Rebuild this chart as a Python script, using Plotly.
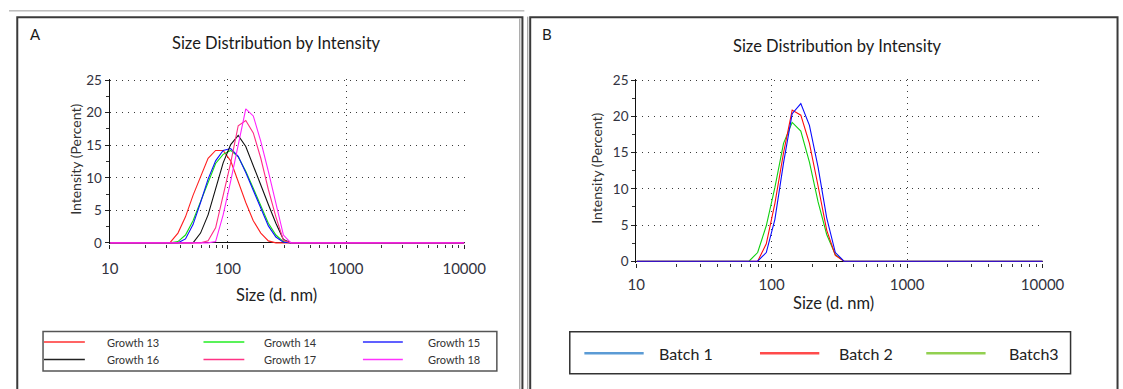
import plotly.graph_objects as go

# ---------------- data ----------------
sizes_nm = [10.1, 11.7, 13.54, 15.69, 18.17, 21.04, 24.36, 28.21, 32.67, 37.84,
            43.82, 50.75, 58.77, 68.06, 78.82, 91.28, 105.7, 122.4, 141.8, 164.2,
            190.1, 220.2, 255.0, 295.3, 342.0, 396.1, 458.7, 531.2, 615.1, 712.4,
            825.0, 955.4, 1106, 1281, 1484, 1718, 1990, 2305, 2669, 3091,
            3580, 4145, 4801, 5560, 6439, 7456, 8635, 10000]

# Panel A (intensity %, one value per size bin)
growth13 = [0, 0, 0, 0, 0, 0, 0, 0, 0.1, 1.5, 4.0, 7.3, 10.3, 13.0, 14.2, 14.2, 12.6, 9.4, 6.2, 3.4,
            1.5, 0.3, 0, 0, 0, 0, 0, 0, 0, 0, 0, 0, 0, 0, 0, 0, 0, 0, 0, 0, 0, 0, 0, 0, 0, 0, 0, 0]
growth14 = [0, 0, 0, 0, 0, 0, 0, 0, 0, 0.2, 1.2, 3.4, 6.3, 9.5, 12.2, 13.6, 14.2, 13.2, 11.0, 8.4,
            5.6, 3.0, 1.2, 0.2, 0, 0, 0, 0, 0, 0, 0, 0, 0, 0, 0, 0, 0, 0, 0, 0, 0, 0, 0, 0, 0, 0, 0, 0]
growth15 = [0, 0, 0, 0, 0, 0, 0, 0, 0, 0, 0.6, 2.8, 6.2, 9.8, 12.6, 14.2, 14.5, 13.3, 10.8, 8.0,
            5.2, 2.6, 0.9, 0.1, 0, 0, 0, 0, 0, 0, 0, 0, 0, 0, 0, 0, 0, 0, 0, 0, 0, 0, 0, 0, 0, 0, 0, 0]
growth16 = [0, 0, 0, 0, 0, 0, 0, 0, 0, 0, 0, 0, 1.5, 4.3, 8.3, 12.3, 15.1, 16.5, 14.8, 12.0,
            8.9, 5.9, 3.0, 0.5, 0, 0, 0, 0, 0, 0, 0, 0, 0, 0, 0, 0, 0, 0, 0, 0, 0, 0, 0, 0, 0, 0, 0, 0]
growth17 = [0, 0, 0, 0, 0, 0, 0, 0, 0, 0, 0, 0, 0, 0.3, 2.3, 7.3, 12.3, 18.0, 18.8, 16.9,
            13.0, 8.2, 4.0, 0.4, 0, 0, 0, 0, 0, 0, 0, 0, 0, 0, 0, 0, 0, 0, 0, 0, 0, 0, 0, 0, 0, 0, 0, 0]
growth18 = [0, 0, 0, 0, 0, 0, 0, 0, 0, 0, 0, 0, 0, 0, 0.2, 4.3, 9.5, 14.8, 20.6, 19.5,
            15.6, 11.0, 6.0, 1.2, 0, 0, 0, 0, 0, 0, 0, 0, 0, 0, 0, 0, 0, 0, 0, 0, 0, 0, 0, 0, 0, 0, 0, 0]

# Panel B
batch1 = [0, 0, 0, 0, 0, 0, 0, 0, 0, 0, 0, 0, 0, 0, 0, 1.2, 5.8, 13.6, 20.4, 21.8,
          18.8, 13.0, 6.0, 1.2, 0, 0, 0, 0, 0, 0, 0, 0, 0, 0, 0, 0, 0, 0, 0, 0, 0, 0, 0, 0, 0, 0, 0, 0]
batch2 = [0, 0, 0, 0, 0, 0, 0, 0, 0, 0, 0, 0, 0, 0, 0, 2.4, 8.0, 15.0, 20.9, 20.2,
          16.3, 10.4, 4.3, 0.8, 0, 0, 0, 0, 0, 0, 0, 0, 0, 0, 0, 0, 0, 0, 0, 0, 0, 0, 0, 0, 0, 0, 0, 0]
batch3 = [0, 0, 0, 0, 0, 0, 0, 0, 0, 0, 0, 0, 0, 0, 1.2, 4.9, 10.2, 16.3, 19.2, 18.0,
          13.7, 8.2, 3.7, 0.9, 0, 0, 0, 0, 0, 0, 0, 0, 0, 0, 0, 0, 0, 0, 0, 0, 0, 0, 0, 0, 0, 0, 0, 0]

names_a = ["Growth 13", "Growth 14", "Growth 15", "Growth 16", "Growth 17", "Growth 18"]
series_a = [growth13, growth14, growth15, growth16, growth17, growth18]
colors_a = ["#FF2020", "#10DD10", "#1010FF", "#101010", "#FF2D86", "#FF20FF"]
legend_colors_a = ["#FF3030", "#22EE22", "#2B2BFF", "#222222", "#FF3385", "#FF33FF"]

names_b = ["Batch 1", "Batch 2", "Batch3"]
series_b = [batch1, batch2, batch3]
colors_b = ["#0A0AFF", "#FF0A0A", "#10D010"]
legend_colors_b = ["#5B9BD5", "#FF4B4B", "#92D050"]

x_ticks = [10, 100, 1000, 10000]
x_ticktext = ["10", "100", "1000", "10000"]
y_ticks = [0, 5, 10, 15, 20, 25]

# ---------------- layout helpers ----------------
W, H = 1123, 389
FONT = "Lato"
TXT = "#333340"


def px(x):
    return x / W


def py(y):
    return 1 - y / H


fig = go.Figure()

# draw order: panel A as listed; panel B green, red, blue (blue on top)
for name, ys, col in zip(names_a, series_a, colors_a):
    fig.add_trace(go.Scatter(x=sizes_nm, y=ys, mode="lines", name=name,
                             line=dict(color=col, width=1.1), xaxis="x", yaxis="y",
                             showlegend=False))
for idx in [2, 1, 0]:
    fig.add_trace(go.Scatter(x=sizes_nm, y=series_b[idx], mode="lines", name=names_b[idx],
                             line=dict(color=colors_b[idx], width=1.1), xaxis="x2", yaxis="y2",
                             showlegend=False))


def xaxis_cfg(left, right, standoff):
    return dict(domain=[px(left), px(right)], type="log", range=[1, 4.003],
                tickmode="array", tickvals=x_ticks, ticktext=x_ticktext,
                showline=False, ticks="outside", ticklen=4, tickcolor="#222",
                tickfont=dict(family=FONT, size=15, color=TXT),
                ticklabelstandoff=standoff,
                showgrid=True, gridcolor="#3A3A3A", griddash="1px,5px", gridwidth=1.3,
                minor=dict(ticks="outside", ticklen=3, tickcolor="#333", dtick="D1", showgrid=False),
                zeroline=False, fixedrange=True)


def yaxis_cfg(anchor, ytop, ybot):
    unit = (ybot - ytop) / 25.0
    return dict(domain=[py(ybot + 0.2 * unit), py(ytop - 0.2 * unit)], range=[-0.2, 25.2],
                anchor=anchor, tickmode="array", tickvals=y_ticks,
                showline=True, linecolor="#111", linewidth=1,
                ticks="outside", ticklen=4, tickcolor="#222",
                tickfont=dict(family=FONT, size=13.5, color=TXT),
                minor=dict(ticks="outside", ticklen=3, dtick=2.5, tick0=0, tickcolor="#333", showgrid=False),
                showgrid=True, gridcolor="#3A3A3A", griddash="1px,5px", gridwidth=1.3,
                zeroline=True, zerolinecolor="#111", zerolinewidth=1, fixedrange=True)


# Panel A geometry
AX_L, AX_R, AY_T, AY_B = 103.5, 468.5, 75.7, 244.0
# Panel B geometry
BX_L, BX_R, BY_T, BY_B = 645.0, 1063.3, 76.0, 263.0

fig.update_layout(
    width=W, height=H, margin=dict(l=0, r=0, t=0, b=0),
    paper_bgcolor="white", plot_bgcolor="white", showlegend=False,
    xaxis=xaxis_cfg(AX_L, AX_R, 7),
    yaxis=yaxis_cfg("x", AY_T, AY_B),
    xaxis2=dict(xaxis_cfg(BX_L, BX_R, 4), anchor="y2"),
    yaxis2=yaxis_cfg("x2", BY_T, BY_B),
)
fig.layout.xaxis.anchor = "y"

shapes = []
annotations = []

# frames
shapes.append(dict(type="line", xref="paper", yref="paper", x0=px(0), x1=px(530), y0=py(4), y1=py(4),
                   line=dict(color="#9A9A9A", width=1)))
shapes.append(dict(type="rect", xref="paper", yref="paper", x0=px(8.5), x1=px(528), y0=py(10.5), y1=py(400),
                   line=dict(color="#3A3A3A", width=2)))
shapes.append(dict(type="line", xref="paper", yref="paper", x0=px(525.3), x1=px(525.3), y0=py(12), y1=py(400),
                   line=dict(color="#8A8A8A", width=1)))
shapes.append(dict(type="line", xref="paper", yref="paper", x0=px(533.5), x1=px(533.5), y0=py(10), y1=py(400),
                   line=dict(color="#8A8A8A", width=1)))
shapes.append(dict(type="rect", xref="paper", yref="paper", x0=px(536), x1=px(1140), y0=py(10.5), y1=py(400),
                   line=dict(color="#3A3A3A", width=2)))

# panel letters and titles
annotations.append(dict(text="A", x=px(27.5), y=py(27.5), xref="paper", yref="paper", showarrow=False,
                        font=dict(family=FONT, size=15, color="#1A1A1A"), xanchor="center", yanchor="middle"))
annotations.append(dict(text="B", x=px(553.5), y=py(27.5), xref="paper", yref="paper", showarrow=False,
                        font=dict(family=FONT, size=15, color="#1A1A1A"), xanchor="center", yanchor="middle"))
annotations.append(dict(text="Size Distribution by Intensity", x=px(275), y=py(37.5), xref="paper", yref="paper",
                        showarrow=False, font=dict(family=FONT, size=16.5, color="#1A1A1A"),
                        xanchor="center", yanchor="middle"))
annotations.append(dict(text="Size Distribution by Intensity", x=px(852.5), y=py(40.5), xref="paper", yref="paper",
                        showarrow=False, font=dict(family=FONT, size=16.5, color="#1A1A1A"),
                        xanchor="center", yanchor="middle"))

# axis titles
for (xc, yc) in [(275, 298.3), (848, 306.7)]:
    annotations.append(dict(text="Size (d. nm)", x=px(xc), y=py(yc), xref="paper", yref="paper",
                            showarrow=False, font=dict(family=FONT, size=16.5, color="#222"),
                            xanchor="center", yanchor="middle"))
for (xc, yc) in [(69, 158), (604, 167)]:
    annotations.append(dict(text="Intensity (Percent)", x=px(xc), y=py(yc), xref="paper", yref="paper",
                            showarrow=False, textangle=-90, font=dict(family=FONT, size=14, color="#333"),
                            xanchor="center", yanchor="middle"))

# legend A (custom box, 3 columns x 2 rows)
shapes.append(dict(type="rect", xref="paper", yref="paper", x0=px(35), x1=px(501.7), y0=py(335.7), y1=py(376.7),
                   line=dict(color="#555555", width=1.5)))
col_lines = [(36, 78), (200, 242), (364, 405)]
col_text = [99, 260, 429]
rows = [346.7, 364.7]
for k in range(6):
    r, c = divmod(k, 3)
    x0, x1 = col_lines[c]
    shapes.append(dict(type="line", xref="paper", yref="paper", x0=px(x0), x1=px(x1), y0=py(rows[r]), y1=py(rows[r]),
                       line=dict(color=legend_colors_a[k], width=1.5)))
    annotations.append(dict(text=names_a[k], x=px(col_text[c]), y=py(rows[r]), xref="paper", yref="paper",
                            showarrow=False, font=dict(family=FONT, size=11, color="#333"),
                            xanchor="left", yanchor="middle"))

# legend B
shapes.append(dict(type="rect", xref="paper", yref="paper", x0=px(576.7), x1=px(1091.7), y0=py(336), y1=py(379.5),
                   line=dict(color="#333333", width=1.5)))
b_lines = [(591.7, 652.7), (772.3, 833.3), (943.3, 1004.3)]
b_text = [666, 851.7, 1026.7]
for k in range(3):
    x0, x1 = b_lines[k]
    shapes.append(dict(type="line", xref="paper", yref="paper", x0=px(x0), x1=px(x1), y0=py(358.3), y1=py(358.3),
                       line=dict(color=legend_colors_b[k], width=2.5)))
    annotations.append(dict(text=names_b[k], x=px(b_text[k]), y=py(358.3), xref="paper", yref="paper",
                            showarrow=False, font=dict(family=FONT, size=16, color="#222"),
                            xanchor="left", yanchor="middle"))

fig.update_layout(shapes=shapes, annotations=annotations)
fig.write_html("out.html")
